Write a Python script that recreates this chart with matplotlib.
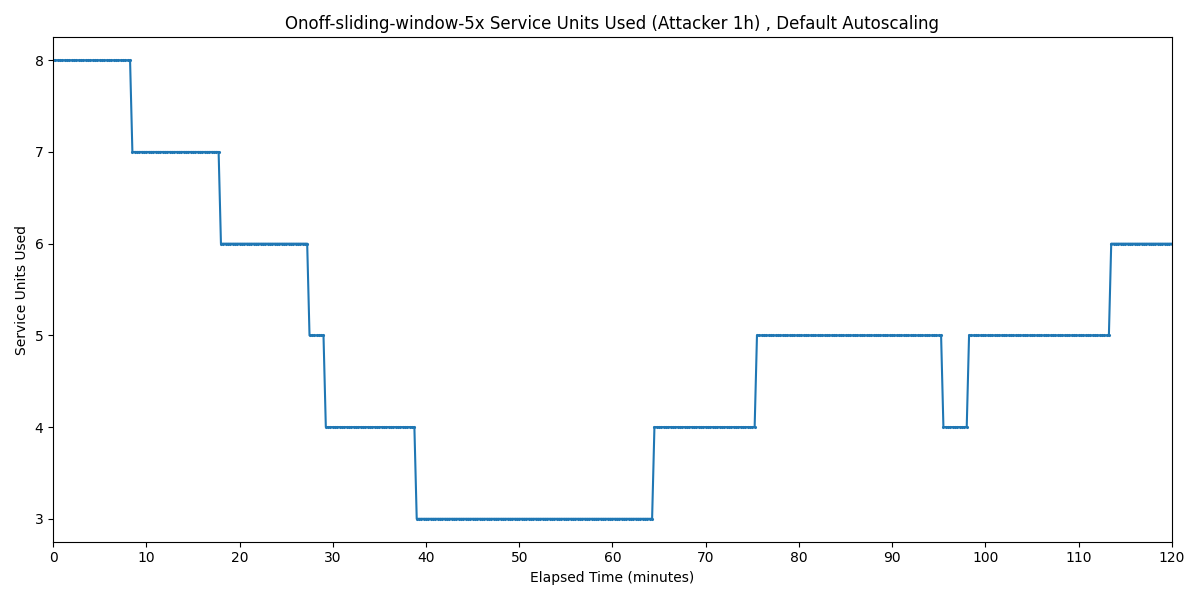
import numpy as np
import matplotlib
matplotlib.use("Agg")
import matplotlib.pyplot as plt

# step levels and the time (minutes) each level ends
levels = [8, 7, 6, 5, 4, 3, 4, 5, 4, 5, 6]
level_ends = [8.3, 17.9, 27.3, 29.1, 38.9, 64.3, 75.5, 95.3, 98.1, 113.4, 120.0]
sample_step = 0.25

times = []
units = []
start = 0.0
for lvl, end in zip(levels, level_ends):
    t = np.arange(start, end, sample_step)
    times.extend(t)
    units.extend([lvl] * len(t))
    start = t[-1] + sample_step
times.append(120.0)
units.append(levels[-1])

fig, ax = plt.subplots(figsize=(12, 6), dpi=100)
ax.plot(times, units, color="#1f77b4", marker=".", markersize=2.5)
ax.set_xlim(0, 120)
ax.set_xticks(range(0, 121, 10))
ax.set_xlabel("Elapsed Time (minutes)")
ax.set_ylabel("Service Units Used")
ax.set_title("Onoff-sliding-window-5x Service Units Used (Attacker 1h) , Default Autoscaling")
fig.tight_layout()
fig.savefig("out.png")
